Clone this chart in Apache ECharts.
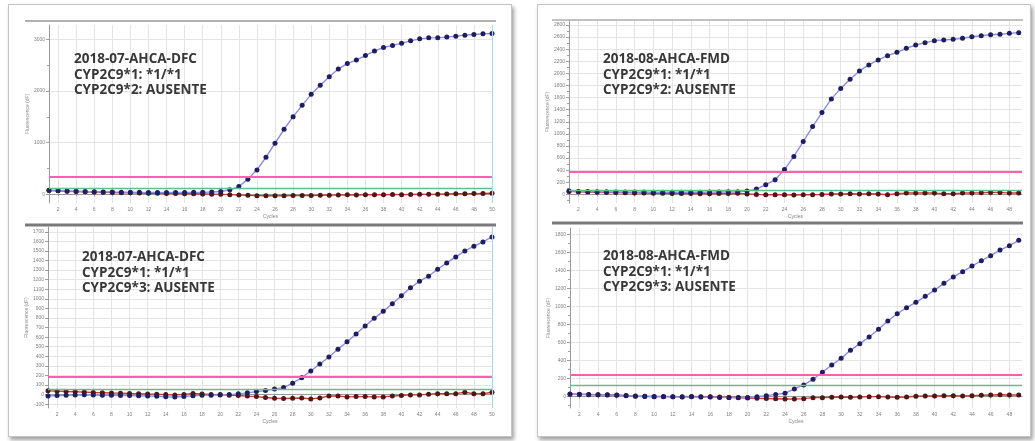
<!DOCTYPE html>
<html>
<head>
<meta charset="utf-8">
<script src="https://cdn.jsdelivr.net/npm/echarts@6/dist/echarts.min.js"></script>
<style>
  html, body { margin: 0; padding: 0; background: #ffffff; }
  #wrap { position: relative; width: 1035px; height: 441px; overflow: hidden; background: #fff; }
  .panel { position: absolute; background: #fff; border: 1px solid #c4c4c4;
           box-shadow: 2px 3px 4px rgba(0, 0, 0, 0.38); }
  #chart { position: absolute; left: 0; top: 0; width: 1035px; height: 441px; }
</style>
</head>
<body>
<div id="wrap">
  <div class="panel" style="left:8px;top:4px;width:502px;height:431px;"></div>
  <div class="panel" style="left:537px;top:4px;width:492px;height:431px;"></div>
  <div id="chart"></div>
</div>
<script>
// ---- run labels ----
const labelsTL = ['2018-07-AHCA-DFC', 'CYP2C9*1: *1/*1', 'CYP2C9*2: AUSENTE'];
const labelsBL = ['2018-07-AHCA-DFC', 'CYP2C9*1: *1/*1', 'CYP2C9*3: AUSENTE'];
const labelsTR = ['2018-08-AHCA-FMD', 'CYP2C9*1: *1/*1', 'CYP2C9*2: AUSENTE'];
const labelsBR = ['2018-08-AHCA-FMD', 'CYP2C9*1: *1/*1', 'CYP2C9*3: AUSENTE'];

// ---- fluorescence per cycle (cycle 1 first) ----
const ampTL = [75, 70, 62, 58, 52, 48, 45, 42, 40, 38, 36, 35, 34, 33, 33, 34, 36, 38, 42, 52,
  85, 149, 292, 472, 717, 988, 1259, 1503, 1723, 1936, 2110, 2277, 2426, 2536, 2600, 2690, 2774, 2845, 2884, 2928,
  2973, 3012, 3031, 3035, 3045, 3064, 3083, 3097, 3108, 3116];
const ctrlTL = [72, 66, 58, 52, 46, 42, 38, 34, 30, 27, 24, 20, 18, 15, 12, 10, 8, 5, 2, -2,
  -8, -15, -22, -28, -30, -28, -30, -27, -25, -24, -20, -18, -15, -12, -15, -10, -8, -10, -5, -8,
  -4, 0, -2, 2, 5, 8, 10, 12, 15, 18];

const ampBL = [-15, -10, -8, -5, -2, -5, -8, -8, -10, -10, -12, -15, -18, -22, -25, -20, -12, -8, -6, -5,
  0, 8, 18, 31, 42, 59, 73, 119, 177, 247, 320, 393, 473, 552, 632, 716, 796, 869, 948, 1031,
  1115, 1184, 1236, 1309, 1375, 1438, 1500, 1549, 1594, 1646];
const ctrlBL = [40, 36, 32, 30, 26, 22, 20, 17, 15, 12, 10, 6, 4, 0, -4, 2, 12, 6, 2, 0,
  -6, -10, -16, -21, -31, -38, -41, -38, -35, -45, -35, -14, -14, -24, -21, -21, -24, -24, -14, -10,
  -3, -3, 3, 10, 10, 10, 24, 10, 10, 24];

const ampTR = [56, 50, 46, 44, 42, 40, 40, 38, 38, 36, 36, 35, 35, 35, 36, 38, 40, 42, 45, 55,
  89, 160, 242, 410, 627, 874, 1121, 1352, 1578, 1748, 1903, 2040, 2139, 2221, 2292, 2348, 2414, 2469, 2507, 2540,
  2551, 2562, 2579, 2605, 2622, 2638, 2645, 2661, 2671];
const ctrlTR = [50, 45, 40, 35, 32, 30, 28, 25, 22, 20, 18, 16, 15, 14, 12, 12, 14, 16, 18, 8,
  0, -5, -5, -5, -11, -5, -5, 0, 6, 6, 11, 6, 11, 6, -5, 11, 22, 22, 22, 22,
  11, 11, 22, 22, 27, 33, 33, 22, 22];

const ampBR = [27, 25, 22, 20, 18, 15, 10, 5, 2, 0, 0, -2, -3, -2, -5, -5, -8, -10, -12, -8,
  0, 11, 25, 38, 86, 130, 193, 271, 352, 426, 515, 589, 663, 749, 841, 922, 989, 1049, 1115, 1185,
  1260, 1330, 1389, 1452, 1511, 1567, 1630, 1678, 1738];
const ctrlBR = [30, 28, 25, 22, 20, 18, 12, 8, 5, 2, 2, 0, 0, 2, 0, -2, -5, -8, -10, -15,
  -18, -20, -24, -26, -26, -22, -11, -11, -7, -4, -7, -4, 0, 0, -4, -7, -4, 4, 7, 7,
  11, 11, 7, 11, 15, 19, 22, 19, 19];

// ---- threshold levels ----
const thresholdTL = 336, noiseTL = 110;
const thresholdBL = 185, noiseBL = 52;
const thresholdTR = 374, noiseTR = 66;
const thresholdBR = 249, noiseBR = 130;

// ---- axis ticks ----
const cycleTicks = [2, 4, 6, 8, 10, 12, 14, 16, 18, 20, 22, 24, 26, 28, 30, 32, 34, 36, 38, 40, 42, 44, 46, 48, 50];
const cycleTicksR = [2, 4, 6, 8, 10, 12, 14, 16, 18, 20, 22, 24, 26, 28, 30, 32, 34, 36, 38, 40, 42, 44, 46, 48];
const yTicksTL = [0, 1000, 2000, 3000];
const yMinorTL = [0, 500, 1000, 1500, 2000, 2500, 3000];
const yTicksBL = [-100, 0, 100, 200, 300, 400, 500, 600, 700, 800, 900, 1000, 1100, 1200, 1300, 1400, 1500, 1600, 1700];
const yTicksTR = [0, 200, 400, 600, 800, 1000, 1200, 1400, 1600, 1800, 2000, 2200, 2400, 2600, 2800];
const yMinorTR = [-100, 0, 100, 200, 300, 400, 500, 600, 700, 800, 900, 1000, 1100, 1200, 1300, 1400,
  1500, 1600, 1700, 1800, 1900, 2000, 2100, 2200, 2300, 2400, 2500, 2600, 2700, 2800];
const yTicksBR = [0, 200, 400, 600, 800, 1000, 1200, 1400, 1600, 1800];
const yMinorBR = [-100, 0, 100, 200, 300, 400, 500, 600, 700, 800, 900, 1000, 1100, 1200, 1300, 1400, 1500, 1600, 1700, 1800];

// ---- plot layout ----
const plots = [
  { grid: { left: 49, top: 25, width: 443, height: 178 }, xMax: 50, yMin: -170, yMax: 3280,
    amp: ampTL, ctrl: ctrlTL, thr: thresholdTL, noise: noiseTL, xt: cycleTicks, yt: yTicksTL, ym: yMinorTL,
    cursor: true, text: labelsTL, tx: 74, ty: 52, head: { x1: 25, x2: 496, y: 21, w: 2, c: '#b0b0b0' } },
  { grid: { left: 48, top: 227, width: 444, height: 181 }, xMax: 50, yMin: -140, yMax: 1750,
    amp: ampBL, ctrl: ctrlBL, thr: thresholdBL, noise: noiseBL, xt: cycleTicks, yt: yTicksBL, ym: null,
    cursor: true, text: labelsBL, tx: 82, ty: 250, head: { x1: 25, x2: 496, y: 225, w: 3, c: '#7a7a7a' } },
  { grid: { left: 569, top: 21, width: 453, height: 182 }, xMax: 49.35, yMin: -142, yMax: 2865,
    amp: ampTR, ctrl: ctrlTR, thr: thresholdTR, noise: noiseTR, xt: cycleTicksR, yt: yTicksTR, ym: yMinorTR,
    cursor: false, text: labelsTR, tx: 603, ty: 52, head: { x1: 552, x2: 1023, y: 20, w: 2, c: '#c0c0c0' } },
  { grid: { left: 570, top: 228, width: 452, height: 180 }, xMax: 49.35, yMin: -126, yMax: 1875,
    amp: ampBR, ctrl: ctrlBR, thr: thresholdBR, noise: noiseBR, xt: cycleTicksR, yt: yTicksBR, ym: yMinorBR,
    cursor: false, text: labelsBR, tx: 603, ty: 249, head: { x1: 552, x2: 1023, y: 223, w: 3, c: '#7a7a7a' } }
];

const toPoints = arr => arr.map((v, i) => [i + 1, v]);
const plain = v => String(v);
const tickFont = { fontSize: 5, color: '#808080', fontFamily: 'Liberation Sans', formatter: plain };

const grids = [], xAxes = [], yAxes = [], series = [], graphics = [];

plots.forEach((p, k) => {
  grids.push(Object.assign({ containLabel: false }, p.grid));
  xAxes.push({
    type: 'value', gridIndex: k, min: 1, max: p.xMax,
    name: 'Cycles', nameLocation: 'middle', nameGap: 11,
    nameTextStyle: { fontSize: 5, color: '#808080', fontFamily: 'Liberation Sans' },
    axisLine: { lineStyle: { color: '#9a9a9a', width: 1 } },
    axisTick: { show: true, length: 2, customValues: p.xt, lineStyle: { color: '#9a9a9a' } },
    axisLabel: Object.assign({ customValues: p.xt, margin: 4 }, tickFont),
    splitLine: { show: true, lineStyle: { color: '#e4e4e4', width: 1 } }
  });
  const yIndex = yAxes.length;
  yAxes.push({
    type: 'value', gridIndex: k, min: p.yMin, max: p.yMax, position: 'left',
    name: 'Fluorescence (dF)', nameLocation: 'middle', nameGap: 17,
    nameTextStyle: { fontSize: 5, color: '#8a8a8a', fontFamily: 'Liberation Sans' },
    axisLine: { show: true, lineStyle: { color: '#9a9a9a', width: 1 } },
    axisTick: { show: true, length: 3, customValues: p.yt, lineStyle: { color: '#9a9a9a' } },
    axisLabel: Object.assign({ customValues: p.yt, margin: 4 }, tickFont),
    splitLine: { show: true, lineStyle: { color: '#e4e4e4', width: 1 } }
  });
  if (p.ym) {
    yAxes.push({
      type: 'value', gridIndex: k, min: p.yMin, max: p.yMax, position: 'left', offset: 0,
      axisLine: { show: false },
      axisTick: { show: true, length: 2, customValues: p.ym, lineStyle: { color: '#a0a0a0' } },
      axisLabel: { show: false }, splitLine: { show: false }
    });
  }

  const markLines = [
    { yAxis: p.thr, lineStyle: { color: '#ff5fae', width: 2.2, type: 'solid' } },
    { yAxis: p.noise, lineStyle: { color: '#5fbf8e', width: 1.4, type: 'solid' } }
  ];
  if (p.cursor) {
    markLines.push({ xAxis: p.xMax, lineStyle: { color: '#a9d6f2', width: 1.2, type: 'solid' } });
  }

  series.push({
    type: 'line', xAxisIndex: k, yAxisIndex: yIndex, data: toPoints(p.ctrl),
    symbol: 'circle', symbolSize: 5, showAllSymbol: true, animation: false,
    lineStyle: { color: '#d9352f', width: 1.4 },
    itemStyle: { color: '#4a1818', borderWidth: 0 },
    markLine: { silent: true, symbol: 'none', label: { show: false }, animation: false, data: markLines },
    z: 3
  });
  series.push({
    type: 'line', xAxisIndex: k, yAxisIndex: yIndex, data: toPoints(p.amp),
    symbol: 'circle', symbolSize: 5, showAllSymbol: true, animation: false,
    lineStyle: { color: '#8c8ce6', width: 1.4 },
    itemStyle: { color: '#1e1e5e', borderWidth: 0 },
    z: 4
  });

  graphics.push({
    type: 'line', silent: true, z: 10,
    shape: { x1: p.head.x1, y1: p.head.y, x2: p.head.x2, y2: p.head.y },
    style: { stroke: p.head.c, lineWidth: p.head.w }
  });
  p.text.forEach((line, i) => {
    graphics.push({
      type: 'text', silent: true, z: 20, x: p.tx, y: p.ty + i * 15.8,
      style: { text: line, fill: '#383838', font: 'bold 13.5px "Open Sans", "Liberation Sans", sans-serif',
               textVerticalAlign: 'top' }
    });
  });
});

const chart = echarts.init(document.getElementById('chart'), null, { renderer: 'canvas' });
chart.setOption({
  backgroundColor: 'transparent',
  animation: false,
  grid: grids,
  xAxis: xAxes,
  yAxis: yAxes,
  series: series,
  graphic: graphics
});
</script>
</body>
</html>
